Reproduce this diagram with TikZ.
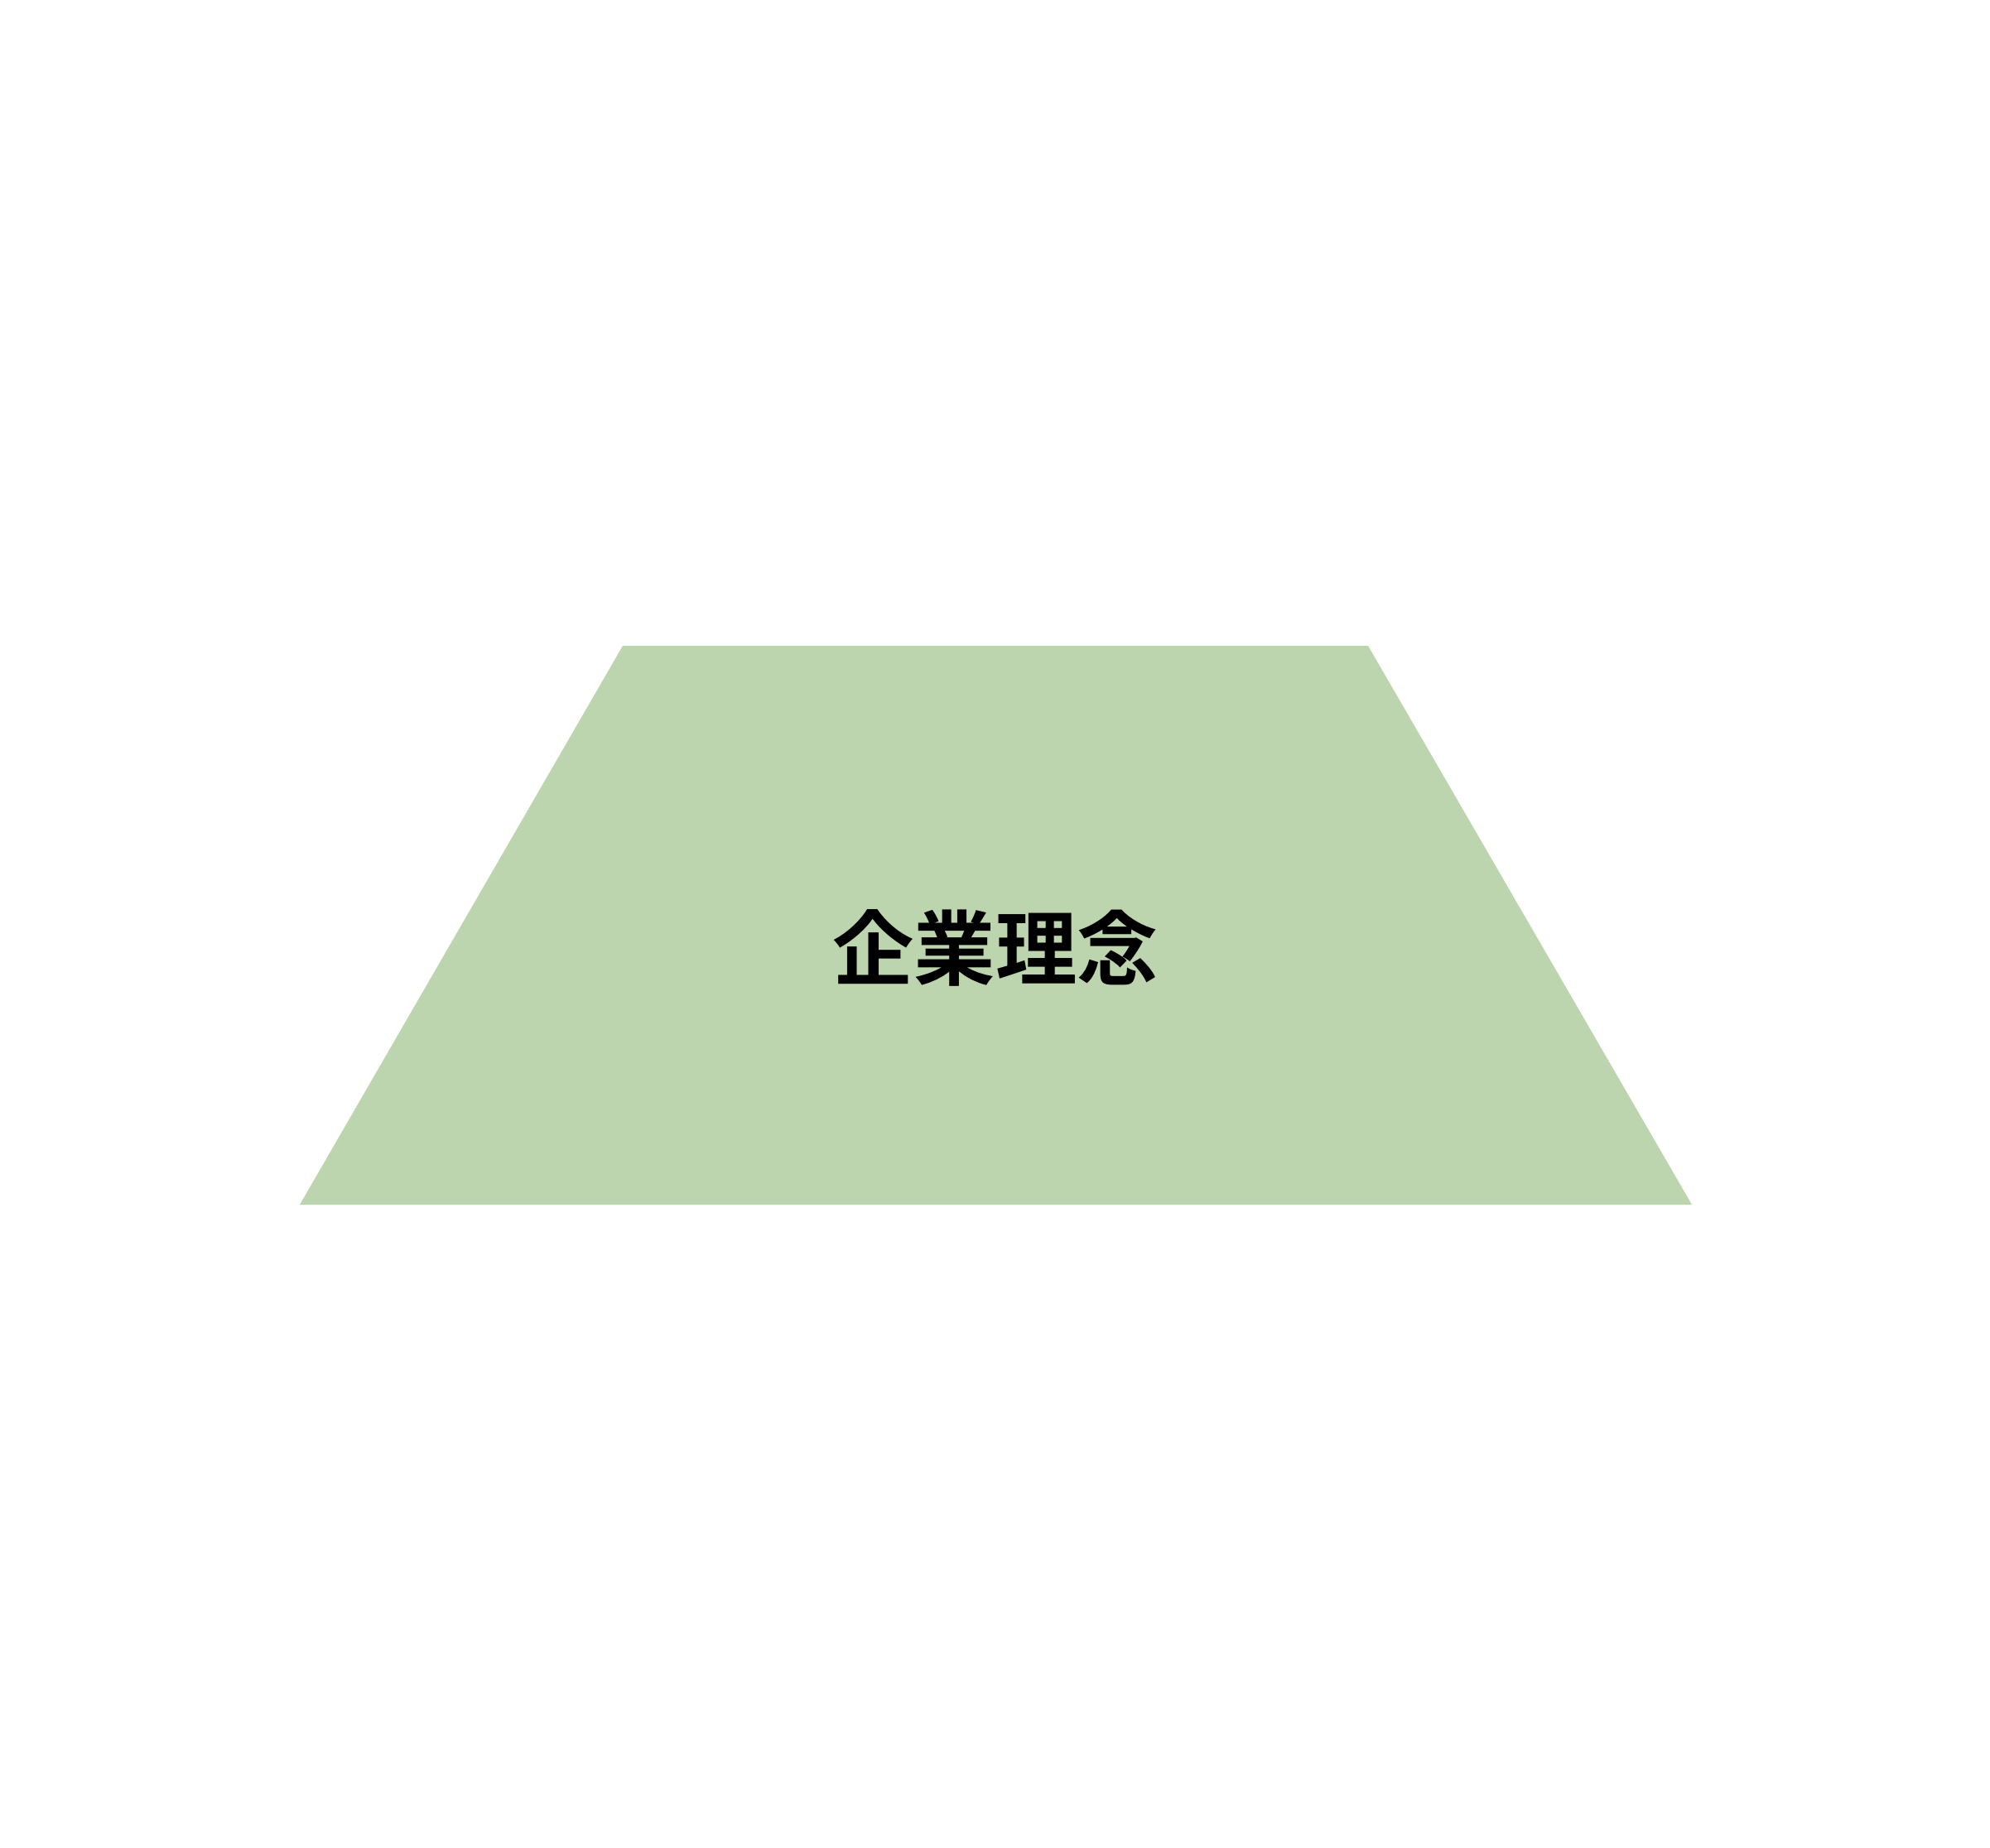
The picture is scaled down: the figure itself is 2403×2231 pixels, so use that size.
\documentclass[tikz,border=0pt]{standalone}
\usepackage{fontspec}
\newfontfamily\cjk{Noto Sans CJK JP}[BoldFont={Noto Sans CJK JP Bold}]
\definecolor{layergreen}{HTML}{BDD5AE}
\begin{document}
\begin{tikzpicture}[x=0.02cm, y=-0.02cm,
  layer/.style={fill=layergreen, draw=none},
  label/.style={font=\cjk\bfseries\fontsize{56}{60}\selectfont, inner sep=0pt}]
  \useasboundingbox (0,0) rectangle (2403,2231);
%	\draw[help lines] (0,0) grid (2403,2231);
  \fill[layer] (752,780) -- (1652,780) -- (2043,1455) -- (362,1455) -- cycle;
  \node[label] (philosophy) at (1202,1145) {企業理念};
\end{tikzpicture}
\end{document}
